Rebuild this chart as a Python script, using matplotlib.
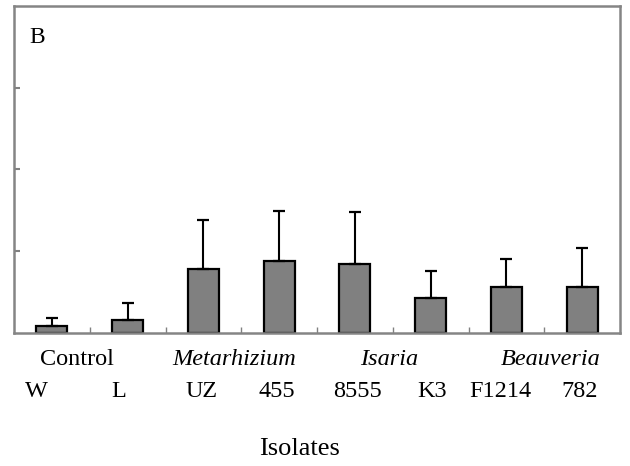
import matplotlib
matplotlib.use("Agg")
import matplotlib.pyplot as plt
import numpy as np

plt.rcParams['font.family'] = ['Liberation Serif', 'DejaVu Serif']

isolates = ["W", "L", "UZ", "455", "8555", "K3", "F1214", "782"]
groups = ["Control", "Metarhizium", "Isaria", "Beauveria"]
group_italic = [False, True, True, True]
means = [0.086, 0.156, 0.78, 0.88, 0.845, 0.42, 0.555, 0.56]
errors = [0.09, 0.21, 0.60, 0.61, 0.635, 0.335, 0.345, 0.48]

# layout (label positions in data x)
isolate_label_x = [-0.21, 0.88, 1.98, 2.97, 4.03, 5.02, 5.92, 6.97]
group_label_x = [0.33, 2.40, 4.45, 6.58]

W, H = 630, 466
fig = plt.figure(figsize=(W / 100, H / 100), dpi=100)
ax = fig.add_axes([14 / W, (H - 332.7) / H, 606 / W, 326.7 / H])

x = np.arange(len(isolates))
ax.bar(x, means, width=0.41, color='#808080', edgecolor='black', linewidth=1.6, zorder=2)
ax.errorbar(x, means, yerr=[np.zeros(len(errors)), errors], fmt='none',
            ecolor='black', elinewidth=1.5, capsize=4.5, capthick=1.6, zorder=3)

ax.set_xlim(-0.5, 7.5)
ax.set_ylim(0, 4)
ax.set_yticks([1, 2, 3])
ax.set_yticklabels([])
ax.set_xticks(np.arange(0.5, 7.5, 1.0))
ax.set_xticklabels([])
ax.tick_params(axis='y', direction='in', length=4, width=1.5, color='#808080')
ax.tick_params(axis='x', direction='in', length=4, width=1.0, color='#808080')
for s in ax.spines.values():
    s.set_color('#858585')
    s.set_linewidth(1.8)

ax.text(0.025, 0.935, "B", transform=ax.transAxes, fontsize=17, ha='left', va='top')

trans = ax.get_xaxis_transform()
for gx, g, it in zip(group_label_x, groups, group_italic):
    ax.text(gx, -(365 - 332.7) / 326.7, g, transform=trans, ha='center', va='baseline',
            fontsize=17.5, style='italic' if it else 'normal')
for lx, lab in zip(isolate_label_x, isolates):
    ax.text(lx, -(397 - 332.7) / 326.7, lab, transform=trans, ha='center', va='baseline',
            fontsize=17.5)

fig.text(300 / W, 1 - 455 / H, "Isolates", ha='center', va='baseline', fontsize=19)

fig.savefig("out.png", dpi=100)
